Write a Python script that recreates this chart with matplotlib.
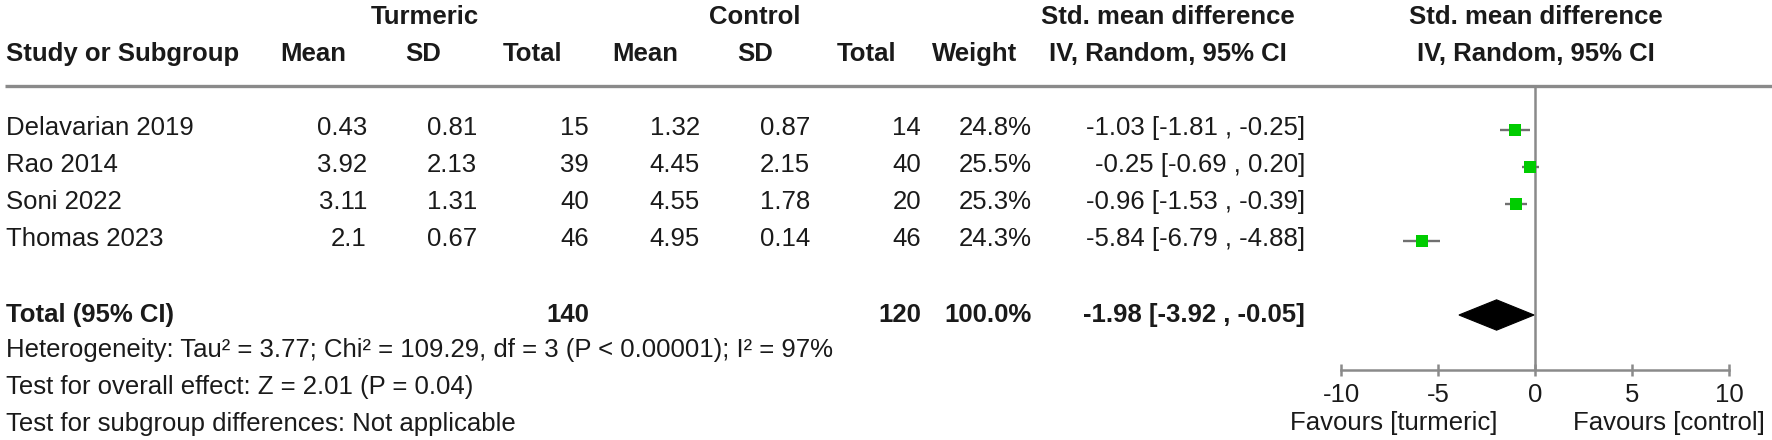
import matplotlib
matplotlib.use("Agg")
import matplotlib.pyplot as plt
from matplotlib.patches import Polygon

plt.rcParams["font.family"] = ["Liberation Sans", "DejaVu Sans"]
plt.rcParams["axes.unicode_minus"] = False

# === data ===
studies = ["Delavarian 2019", "Rao 2014", "Soni 2022", "Thomas 2023"]
turm_mean = [0.43, 3.92, 3.11, 2.1]
turm_sd = [0.81, 2.13, 1.31, 0.67]
turm_n = [15, 39, 40, 46]
ctrl_mean = [1.32, 4.45, 4.55, 4.95]
ctrl_sd = [0.87, 2.15, 1.78, 0.14]
ctrl_n = [14, 40, 20, 46]
weight = [24.8, 25.5, 25.3, 24.3]
smd = [-1.03, -0.25, -0.96, -5.84]
ci_lo = [-1.81, -0.69, -1.53, -6.79]
ci_hi = [-0.25, 0.20, -0.39, -4.88]

total_turm_n = 140
total_ctrl_n = 120
total_weight = 100.0
total_smd, total_lo, total_hi = -1.98, -3.92, -0.05

het_text = "Heterogeneity: Tau² = 3.77; Chi² = 109.29, df = 3 (P < 0.00001); I² = 97%"
overall_text = "Test for overall effect: Z = 2.01 (P = 0.04)"
subgroup_text = "Test for subgroup differences: Not applicable"
x_ticks = [-10, -5, 0, 5, 10]
favours_left = "Favours [turmeric]"
favours_right = "Favours [control]"

# === layout (pixels) ===
W, H = 1772, 440
FS = 18.5
TXT = "#1a1a1a"
GREY = "#8a8a8a"
ROW0, ROW_H = 130, 37          # first study row centre, row spacing
HEAD_LINE = 86
AXIS_Y = 370

fig = plt.figure(figsize=(W / 100, H / 100), dpi=100)
bg = fig.add_axes([0, 0, 1, 1])
bg.set_xlim(0, W)
bg.set_ylim(H, 0)
bg.axis("off")


def put(x, y, s, ha="right", bold=False):
    bg.text(x, y, s, ha=ha, va="center", fontsize=FS, color=TXT,
            fontweight="bold" if bold else "normal")


# headers
put(425, 16.5, "Turmeric", "center", True)
put(755, 16.5, "Control", "center", True)
put(1168, 16.5, "Std. mean difference", "center", True)
put(1536, 16.5, "Std. mean difference", "center", True)
put(6, 54, "Study or Subgroup", "left", True)
for x, lab in [(313, "Mean"), (423, "SD"), (533, "Total"), (645, "Mean"),
               (755, "SD"), (867, "Total"), (975, "Weight")]:
    put(x, 54, lab, "center", True)
put(1168, 54, "IV, Random, 95% CI", "center", True)
put(1536, 54, "IV, Random, 95% CI", "center", True)
bg.plot([5, W], [HEAD_LINE, HEAD_LINE], color=GREY, lw=2.4, solid_capstyle="butt")

# study rows
for i, name in enumerate(studies):
    y = ROW0 + ROW_H * i - 2
    put(6, y, name, "left")
    put(367, y, str(turm_mean[i]))
    put(477, y, str(turm_sd[i]))
    put(589, y, str(turm_n[i]))
    put(700, y, str(ctrl_mean[i]))
    put(810, y, str(ctrl_sd[i]))
    put(921, y, str(ctrl_n[i]))
    put(1032, y, f"{weight[i]:.1f}%")
    put(1305, y, f"{smd[i]:.2f} [{ci_lo[i]:.2f} , {ci_hi[i]:.2f}]")

# total row
ty = ROW0 + ROW_H * (len(studies) + 1)
put(6, ty, "Total (95% CI)", "left", True)
put(589, ty, str(total_turm_n), bold=True)
put(921, ty, str(total_ctrl_n), bold=True)
put(1032, ty, f"{total_weight:.1f}%", bold=True)
put(1305, ty, f"{total_smd:.2f} [{total_lo:.2f} , {total_hi:.2f}]", bold=True)

put(6, 350, het_text, "left")
put(6, 387, overall_text, "left")
put(6, 424, subgroup_text, "left")

# === forest panel ===
fa = fig.add_axes([1341 / W, 0, 388 / W, 1])
fa.set_xlim(-10, 10)
fa.set_ylim((H - ROW0) / ROW_H, -ROW0 / ROW_H)
fa.patch.set_visible(False)
rows = list(range(len(studies)))
total_row = len(studies) + 1
axis_row = (AXIS_Y - ROW0) / ROW_H

fa.plot([0, 0], [(HEAD_LINE - ROW0) / ROW_H, axis_row], color=GREY, lw=1.8,
        solid_capstyle="butt", zorder=1)
fa.hlines(rows, ci_lo, ci_hi, color="#707070", lw=1.7, zorder=2)
fa.plot(smd, rows, "s", color="#00cc00", markersize=8.5, markeredgewidth=0, zorder=3)

dh = 0.41
diamond = Polygon([(total_lo, total_row), (total_smd, total_row - dh),
                   (total_hi, total_row), (total_smd, total_row + dh)],
                  closed=True, facecolor="black", edgecolor="black", lw=0.8, zorder=3)
fa.add_patch(diamond)

for s in ["left", "right", "top"]:
    fa.spines[s].set_visible(False)
fa.spines["bottom"].set_position(("data", axis_row))
fa.spines["bottom"].set_color(GREY)
fa.spines["bottom"].set_linewidth(1.8)
fa.set_yticks([])
fa.set_xticks(x_ticks)
fa.tick_params(axis="x", direction="inout", length=9, width=1.8, color=GREY,
               labelsize=FS, labelcolor=TXT, pad=5)

bg.text(1498, 423, favours_left, ha="right", va="center", fontsize=FS, color=TXT)
bg.text(1573, 423, favours_right, ha="left", va="center", fontsize=FS, color=TXT)

fig.savefig("out.png", dpi=100, facecolor="white")
